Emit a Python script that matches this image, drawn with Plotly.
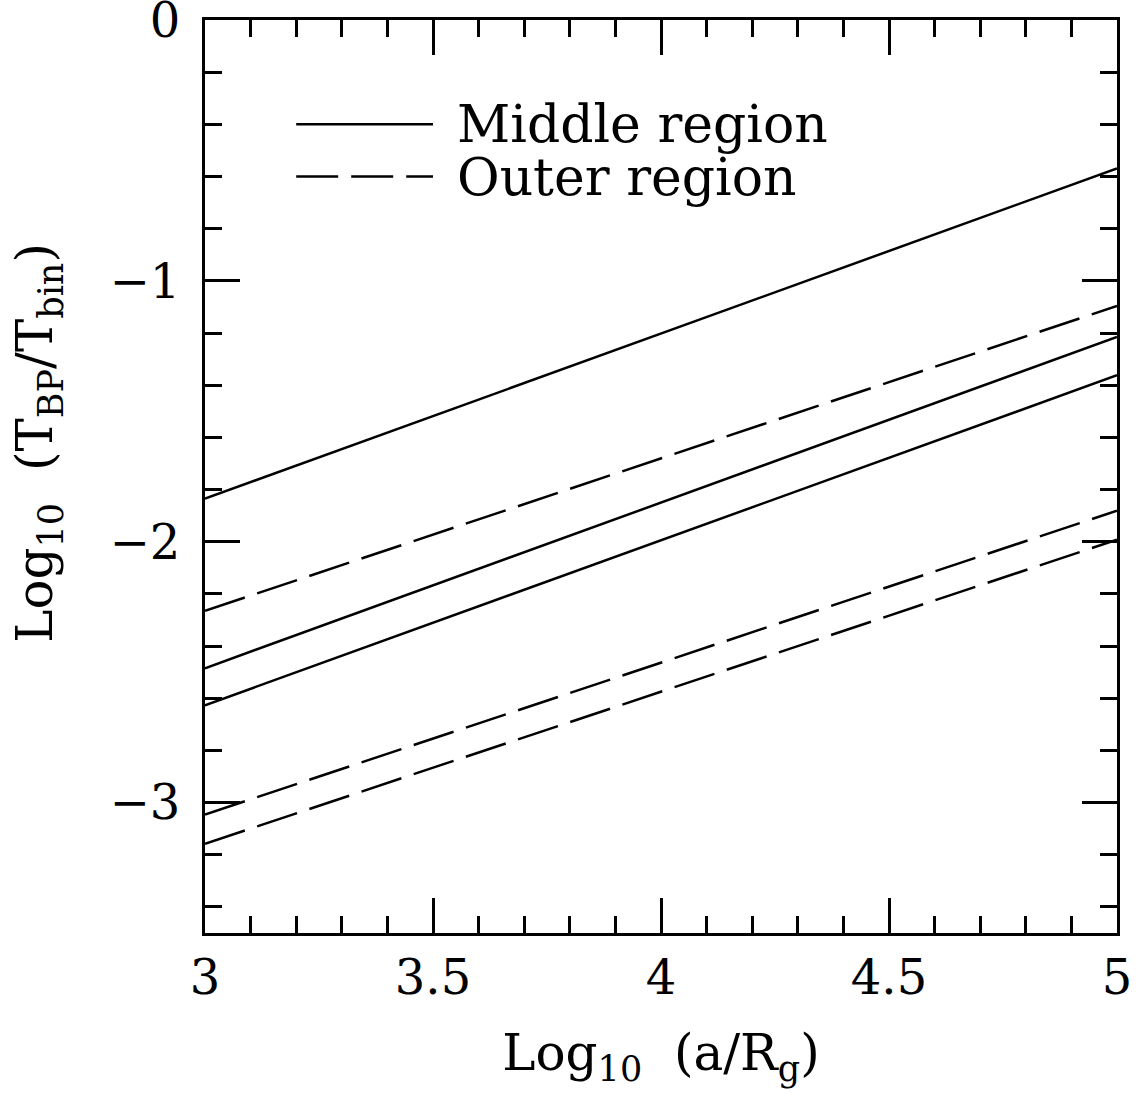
import plotly.graph_objects as go

# Data (endpoints of straight lines in log-log space)
x_vals = [3.0, 5.0]
middle_a = [-1.835, -0.569]
middle_b = [-2.485, -1.215]
middle_c = [-2.627, -1.362]
outer_a = [-2.265, -1.096]
outer_b = [-3.046, -1.881]
outer_c = [-3.158, -1.992]

x_ticks = [3, 3.5, 4, 4.5, 5]
x_tick_text = ["3", "3.5", "4", "4.5", "5"]
y_ticks = [0, -1, -2, -3]
y_tick_text = ["0", "\u22121", "\u22122", "\u22123"]

legend_labels = ["Middle region", "Outer region"]
legend_x = [3.2, 3.5]
legend_y = [-0.4, -0.6]

FONT = "DejaVu Serif"
LW = 2.5
DASH = "42px,13px"

fig = go.Figure()
for ys in (middle_a, middle_b, middle_c):
    fig.add_trace(go.Scatter(x=x_vals, y=ys, mode="lines",
                             line=dict(color="black", width=LW), showlegend=False))
for ys in (outer_a, outer_b, outer_c):
    fig.add_trace(go.Scatter(x=x_vals, y=ys, mode="lines",
                             line=dict(color="black", width=LW, dash=DASH), showlegend=False))

# legend drawn inside the axes
for lab, yy, dash in zip(legend_labels, legend_y, ["solid", DASH]):
    fig.add_trace(go.Scatter(x=legend_x, y=[yy, yy], mode="lines",
                             line=dict(color="black", width=LW, dash=dash),
                             showlegend=False, hoverinfo="skip"))
    fig.add_annotation(x=legend_x[1], y=yy, xref="x", yref="y", text=lab,
                       showarrow=False, xanchor="left", yanchor="middle", xshift=22,
                       font=dict(family=FONT, size=52, color="black"))

axis_common = dict(
    showgrid=False, zeroline=False, showline=True, linecolor="black", linewidth=3,
    mirror="ticks", ticks="inside", ticklen=35, tickwidth=2.5, tickcolor="black",
    tickfont=dict(family=FONT, size=48, color="black"), ticklabeloverflow="allow",
)

fig.update_xaxes(**axis_common, range=[3, 5], tickvals=x_ticks, ticktext=x_tick_text,
                 minor=dict(dtick=0.1, tick0=3, ticks="inside", ticklen=17, tickwidth=2.5, tickcolor="black"),
                 title=dict(text="Log<sub>10</sub>  (a/R<sub>g</sub>)", standoff=32,
                            font=dict(family=FONT, size=50, color="black")))
fig.update_yaxes(**axis_common, range=[-3.5, 0], tickvals=y_ticks, ticktext=y_tick_text,
                 minor=dict(dtick=0.2, tick0=0, ticks="inside", ticklen=17, tickwidth=2.5, tickcolor="black"),
                 ticklabelstandoff=12)

# y-axis title placed as a rotated annotation
fig.add_annotation(x=-0.182, y=0.537, xref="paper", yref="paper",
                   text="Log<sub>10</sub>  (T<sub>BP</sub>/T<sub>bin</sub>)",
                   textangle=-90, showarrow=False, xanchor="center", yanchor="middle",
                   font=dict(family=FONT, size=50, color="black"))

fig.update_layout(
    width=1140, height=1095,
    margin=dict(l=205, r=23, t=20, b=162, autoexpand=False),
    plot_bgcolor="white", paper_bgcolor="white",
    showlegend=False,
)

# remove the default page margin so the figure fills the window exactly
fig.write_html("out.html", config={"displayModeBar": False},
               post_script="document.body.style.margin='0';")
